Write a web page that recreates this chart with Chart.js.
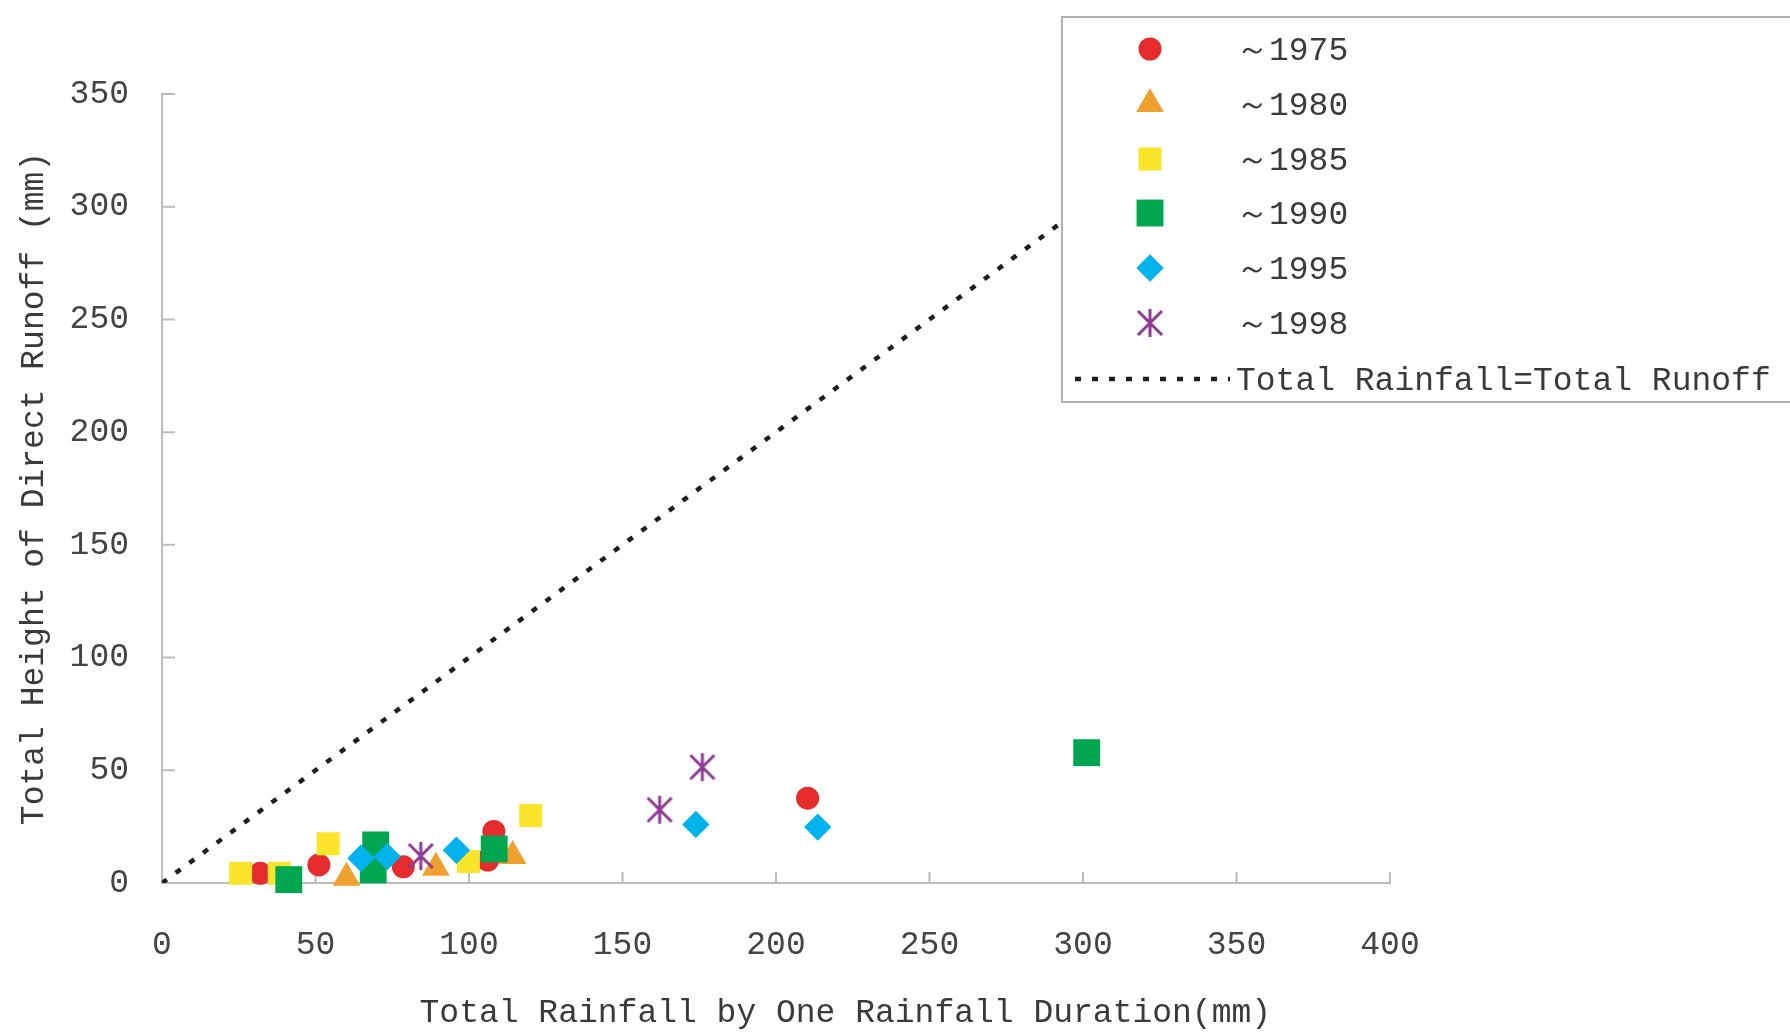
<!DOCTYPE html>
<html>
<head>
<meta charset="utf-8">
<script src="https://cdn.jsdelivr.net/npm/chart.js@4.4.1/dist/chart.umd.min.js"></script>
<style>
html,body{margin:0;padding:0;background:#fff;}
</style>
</head>
<body>
<canvas id="runoff" width="1790" height="1033"></canvas>
<script>
'use strict'
// values (rainfall x, runoff y, mm)
const seriesNames = ['～1975', '～1980', '～1985', '～1990', '～1995', '～1998']
const rain1975 = [32.0, 51.1, 78.6, 106.1, 108.1, 210.3]
const runoff1975 = [4.3, 8.0, 7.2, 10.2, 22.9, 37.6]
const rain1980 = [60.1, 68.4, 89.2, 114.2]
const runoff1980 = [2.3, 12.0, 6.8, 12.0]
const rain1985 = [25.6, 38.2, 54.1, 99.8, 120.1]
const runoff1985 = [4.3, 4.3, 17.4, 9.5, 29.9]
const rain1990 = [41.3, 68.8, 69.6, 108.2, 301.2]
const runoff1990 = [1.5, 5.8, 16.9, 15.1, 57.8]
const rain1995 = [64.8, 73.4, 95.9, 173.9, 213.6]
const runoff1995 = [11.0, 11.7, 14.5, 26.0, 24.8]
const rain1998 = [84.3, 162.1, 176.0]
const runoff1998 = [12.0, 32.5, 51.4]
const lineName = 'Total Rainfall=Total Runoff'
const lineRain = [0, 350]
const lineRunoff = [0, 350]
const xTickValues = [0, 50, 100, 150, 200, 250, 300, 350, 400]
const yTickValues = [0, 50, 100, 150, 200, 250, 300, 350]

const pairs = (xs, ys) => xs.map((v, i) => ({x: v, y: ys[i]}))

// asterisk marker (X with a vertical bar)
const star = document.createElement('canvas')
star.width = 30
star.height = 30
const sc = star.getContext('2d')
sc.strokeStyle = '#8e3a96'
sc.lineWidth = 3
sc.beginPath()
sc.moveTo(15, 1); sc.lineTo(15, 29)
sc.moveTo(3, 3); sc.lineTo(27, 27)
sc.moveTo(27, 3); sc.lineTo(3, 27)
sc.stroke()

const FONT = "'Liberation Mono', 'DejaVu Sans Mono', monospace"
const TEXT = '#3a3a3a'

const mk = (i, xs, ys, color, style, r) => ({
  label: seriesNames[i],
  data: pairs(xs, ys),
  backgroundColor: color,
  pointBackgroundColor: color,
  pointStyle: style,
  pointRadius: r,
  pointHoverRadius: r,
  pointBorderWidth: 0,
  borderWidth: 0,
  order: 6 - i,
  clip: false
})

const data = {
  datasets: [
    mk(0, rain1975, runoff1975, '#e52b2b', 'circle', 11.5),
    mk(1, rain1980, runoff1980, '#f0a02e', 'triangle', 16),
    mk(2, rain1985, runoff1985, '#fbe52b', 'rect', 16.3),
    mk(3, rain1990, runoff1990, '#00a650', 'rect', 19),
    mk(4, rain1995, runoff1995, '#00b3ec', 'rectRot', 13.7),
    mk(5, rain1998, runoff1998, '#8e3a96', star, 14),
    {
      type: 'line',
      label: lineName,
      data: pairs(lineRain, lineRunoff),
      borderColor: '#1e1e1e',
      borderWidth: 4.5,
      borderDash: [6, 11],
      pointRadius: 0,
      fill: false,
      order: 10
    }
  ]
}

const innerTicks = {
  id: 'innerTicks',
  beforeDatasetsDraw(chart) {
    const {ctx, scales: {x, y}} = chart
    ctx.save()
    ctx.strokeStyle = '#bcbcbc'
    ctx.lineWidth = 2
    ctx.beginPath()
    x.ticks.forEach(t => {
      const px = x.getPixelForValue(t.value)
      ctx.moveTo(px, y.bottom); ctx.lineTo(px, y.bottom - 11)
    })
    y.ticks.forEach(t => {
      const py = y.getPixelForValue(t.value)
      ctx.moveTo(x.left, py); ctx.lineTo(x.left + 13, py)
    })
    ctx.stroke()
    ctx.restore()
  }
}

const boxLegend = {
  id: 'boxLegend',
  afterDraw(chart) {
    const ctx = chart.ctx
    const left = 1062, top = 17, bottom = 402
    ctx.save()
    ctx.fillStyle = '#fff'
    ctx.fillRect(left, top, 800, bottom - top)
    ctx.strokeStyle = '#b0b0b0'
    ctx.lineWidth = 2
    ctx.strokeRect(left, top, 800, bottom - top)
    ctx.font = '33px ' + FONT
    ctx.textBaseline = 'middle'
    ctx.textAlign = 'left'
    const rowY = [49, 104, 159, 213, 268, 323]
    chart.data.datasets.slice(0, 6).forEach((ds, i) => {
      ctx.fillStyle = ds.backgroundColor
      Chart.helpers.drawPoint(ctx, {pointStyle: ds.pointStyle, radius: ds.pointRadius, rotation: 0, borderWidth: 0}, 1150, rowY[i])
      ctx.fillStyle = TEXT
      ctx.fillText(ds.label, 1236, rowY[i] + 2)
    })
    const ln = chart.data.datasets[6]
    ctx.strokeStyle = ln.borderColor
    ctx.lineWidth = ln.borderWidth
    ctx.setLineDash(ln.borderDash)
    ctx.beginPath()
    ctx.moveTo(1075, 379); ctx.lineTo(1230, 379)
    ctx.stroke()
    ctx.setLineDash([])
    ctx.fillStyle = TEXT
    ctx.fillText(ln.label, 1236, 381)
    ctx.restore()
  }
}

const config = {
  type: 'scatter',
  data: data,
  options: {
    responsive: false,
    animation: false,
    layout: {padding: {top: 94, right: 400, left: 0, bottom: 0}},
    plugins: {legend: {display: false}, tooltip: {enabled: false}},
    scales: {
      x: {
        type: 'linear',
        min: 0,
        max: 400,
        afterBuildTicks: s => { s.ticks = xTickValues.map(v => ({value: v})) },
        afterFit: s => { s.height = 150 },
        grid: {display: false, drawTicks: false},
        border: {color: '#bcbcbc', width: 2},
        ticks: {padding: 42, color: '#444', font: {family: FONT, size: 33}},
        title: {
          display: true,
          text: '       Total Rainfall by One Rainfall Duration(mm)',
          color: TEXT,
          font: {family: FONT, size: 33},
          padding: {top: 0, bottom: 0}
        }
      },
      y: {
        type: 'linear',
        min: 0,
        max: 350,
        afterBuildTicks: s => { s.ticks = yTickValues.map(v => ({value: v})) },
        afterFit: s => { s.width = 162 },
        grid: {display: false, drawTicks: false},
        border: {color: '#bcbcbc', width: 2},
        ticks: {padding: 33, color: '#444', font: {family: FONT, size: 33}},
        title: {
          display: true,
          text: 'Total Height of Direct Runoff (mm)',
          color: TEXT,
          font: {family: FONT, size: 33},
          padding: {top: 14, bottom: 0}
        }
      }
    }
  },
  plugins: [innerTicks, boxLegend]
}

let runoffChart = new Chart(document.querySelector('#runoff'), config)
</script>
</body>
</html>
